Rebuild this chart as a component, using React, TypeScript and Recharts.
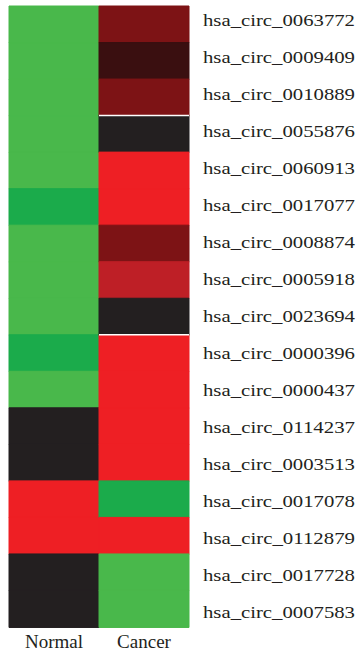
import { Bar, BarChart, Cell, ReferenceLine, XAxis, YAxis } from "recharts";

const circRnas = [
  "hsa_circ_0063772",
  "hsa_circ_0009409",
  "hsa_circ_0010889",
  "hsa_circ_0055876",
  "hsa_circ_0060913",
  "hsa_circ_0017077",
  "hsa_circ_0008874",
  "hsa_circ_0005918",
  "hsa_circ_0023694",
  "hsa_circ_0000396",
  "hsa_circ_0000437",
  "hsa_circ_0114237",
  "hsa_circ_0003513",
  "hsa_circ_0017078",
  "hsa_circ_0112879",
  "hsa_circ_0017728",
  "hsa_circ_0007583",
];

const groups = ["Normal", "Cancer"];

// relative expression (negative = green, 0 = black, positive = red)
const normalLevels = [-1, -1, -1, -1, -1, -1.5, -1, -1, -1, -1.5, -1, 0, 0, 1, 1, 0, 0];
const cancerLevels = [0.4, 0.15, 0.4, 0, 1, 1, 0.4, 0.65, 0, 1, 1, 1, 1, -1.5, 1, -1, -1];

const separatorsAfter = ["hsa_circ_0010889", "hsa_circ_0023694"];

const FONT = "'Liberation Serif', 'Times New Roman', serif";
const INK = "#231f20";

function levelColor(v: number) {
  if (v <= -1.5) return "#1bab4b";
  if (v < 0) return "#49b84b";
  if (v === 0) return "#231f20";
  if (v < 0.25) return "#3a0f10";
  if (v < 0.5) return "#7d1315";
  if (v < 0.8) return "#be1f26";
  return "#ee1f24";
}

const rows = circRnas.map((name, i) => ({
  name,
  normal: 1,
  cancer: 1,
  normalLevel: normalLevels[i],
  cancerLevel: cancerLevels[i],
}));

function RowLabel({ x, y, payload }: any) {
  return (
    <text
      x={x}
      y={y}
      dy="0.355em"
      textAnchor="start"
      style={{ fontFamily: FONT, fontSize: 16.5 }}
      fill={INK}
      textLength={152}
      lengthAdjust="spacingAndGlyphs"
    >
      {payload.value}
    </text>
  );
}

export default function App() {
  return (
    <div style={{ position: "absolute", left: 0, top: 0, background: "#fff" }}>
      <BarChart
        width={360}
        height={656}
        data={rows}
        layout="vertical"
        barCategoryGap={0}
        barGap={0}
        margin={{ top: 6, right: 0, bottom: 0, left: 9 }}
      >
        <XAxis
          type="number"
          domain={[0, 2]}
          ticks={[0.5, 1.5]}
          tickFormatter={(v: number) => groups[Math.floor(v)]}
          height={29}
          axisLine={false}
          tickLine={false}
          tickSize={0}
          tickMargin={7.5}
          tick={{ fontSize: 19, fill: INK, fontFamily: FONT }}
        />
        <YAxis type="category" dataKey="name" hide />
        <YAxis
          yAxisId="labels"
          type="category"
          dataKey="name"
          orientation="right"
          width={171}
          axisLine={false}
          tickLine={false}
          tickSize={0}
          tickMargin={14}
          padding={{ top: -4, bottom: -4 }}
          interval={0}
          tick={<RowLabel />}
        />
        <Bar dataKey="normal" stackId="heat" isAnimationActive={false}>
          {rows.map((r) => (
            <Cell key={r.name} fill={levelColor(r.normalLevel)} stroke={levelColor(r.normalLevel)} strokeWidth={1} />
          ))}
        </Bar>
        <Bar dataKey="cancer" stackId="heat" isAnimationActive={false}>
          {rows.map((r) => (
            <Cell key={r.name} fill={levelColor(r.cancerLevel)} stroke={levelColor(r.cancerLevel)} strokeWidth={1} />
          ))}
        </Bar>
        {separatorsAfter.map((name) => (
          <ReferenceLine
            key={name}
            segment={[
              { x: 1, y: name },
              { x: 2, y: name },
            ]}
            position="end"
            stroke="#fff"
            strokeWidth={1.5}
            ifOverflow="visible"
          />
        ))}
      </BarChart>
    </div>
  );
}
